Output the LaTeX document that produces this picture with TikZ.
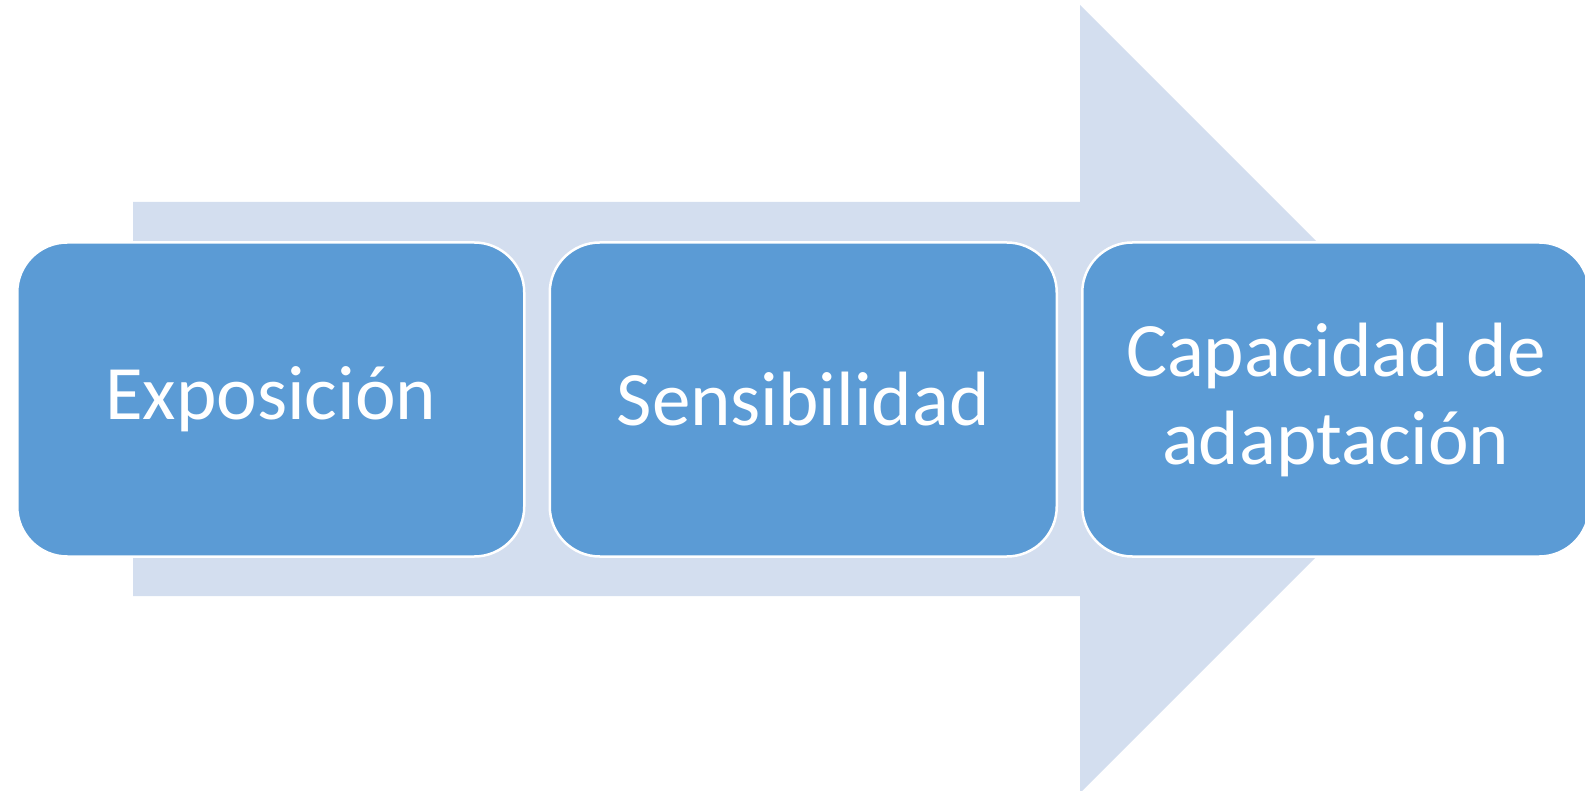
\documentclass[tikz,border=0pt]{standalone}
\usepackage{fontspec}
\setmainfont{Carlito}
\usepackage{xcolor}
\usetikzlibrary{positioning}
\definecolor{arrowblue}{HTML}{D3DEEF}
\definecolor{boxblue}{HTML}{5B9BD5}

\begin{document}
\begin{tikzpicture}[x=1pt,y=-1pt,node distance=23pt,
        stage/.style={draw=white,line width=2.5pt,fill=boxblue,rounded corners=50pt,
                minimum width=507pt,minimum height=314pt,inner sep=0pt,
                text=white,align=center,font=\fontsize{77}{88}\selectfont}]
        \useasboundingbox (0,0) rectangle (1585,791);
        % big background arrow
        \fill[arrowblue] (133,202) -- (1080,202) -- (1080,5) -- (1474,399)
                -- (1080,793) -- (1080,596) -- (133,596) -- cycle;
        \node[stage,anchor=west] (1) at (16,399.5) {Exposición};
        \node[stage] (2) [right=of 1] {Sensibilidad};
        \node[stage] (3) [right=of 2] {Capacidad de\\adaptación};
    \end{tikzpicture}
\end{document}
